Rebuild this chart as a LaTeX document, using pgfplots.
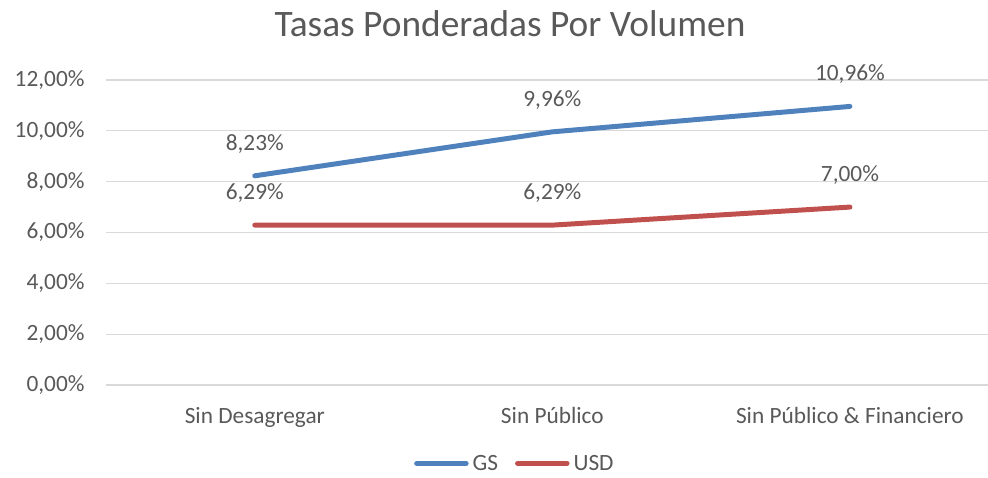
\documentclass[border=0pt]{standalone}
\usepackage{pgfplots}
\pgfplotsset{compat=1.18}
\usepackage{fontspec}
\setmainfont{Carlito}
\definecolor{txt}{HTML}{595959}
\definecolor{gridc}{HTML}{D9D9D9}
\definecolor{gsblue}{HTML}{4F81BD}
\definecolor{usdred}{HTML}{C0504D}
\begin{document}
\begin{tikzpicture}
\useasboundingbox (0,0) rectangle (988bp,478bp);
\node[text=txt, font=\fontsize{37.5}{42}\selectfont] at (510bp,454bp) {Tasas Ponderadas Por Volumen};
\begin{axis}[
  at={(106bp,93bp)}, anchor=south west,
  scale only axis, width=882bp, height=305bp,
  xmin=-0.5, xmax=2.464, ymin=0, ymax=12,
  axis line style={draw=none},
  ymajorgrids, grid style={gridc, line width=1.2pt},
  ytick={0,2,4,6,8,10,12},
  xtick={0,1,2},
  xticklabels={Sin Desagregar, Sin Público, Sin Público \& Financiero},
  major tick length=0pt,
  /pgf/number format/assume math mode=true,
  yticklabel={\pgfmathprintnumber[fixed,fixed zerofill,precision=2,use comma]{\tick}\%},
  ticklabel style={text=txt, font=\fontsize{23.4}{28}\selectfont},
  yticklabel style={anchor=east, xshift=-18bp},
  xticklabel style={anchor=north, yshift=-19bp},
  nodes near coords={\pgfmathprintnumber[fixed,fixed zerofill,precision=2,use comma]{\pgfplotspointmeta}\%},
  point meta=y,
  every node near coord/.style={anchor=center, yshift=32bp, text=txt, font=\fontsize{23.4}{28}\selectfont},
  legend columns=2,
  legend style={at={(0.463,-0.257)}, anchor=center, draw=none, fill=none,
    font=\fontsize{23.4}{28}\selectfont, text=txt, inner sep=0pt,
    nodes={inner sep=1pt, text depth=0pt},
    /tikz/every even column/.append style={column sep=16bp},
    /tikz/every odd column/.append style={column sep=3bp}},
  legend image code/.code={\draw[#1, line cap=round] (2.5bp,0bp) -- (52bp,0bp);},
]
\addplot[gsblue, line width=5pt, line cap=round, line join=round, mark=none] coordinates {(0,8.23) (1,9.96) (2,10.96)};
\addlegendentry{GS}
\addplot[usdred, line width=5pt, line cap=round, line join=round, mark=none] coordinates {(0,6.29) (1,6.29) (2,7.00)};
\addlegendentry{USD}
\end{axis}
\end{tikzpicture}
\end{document}
